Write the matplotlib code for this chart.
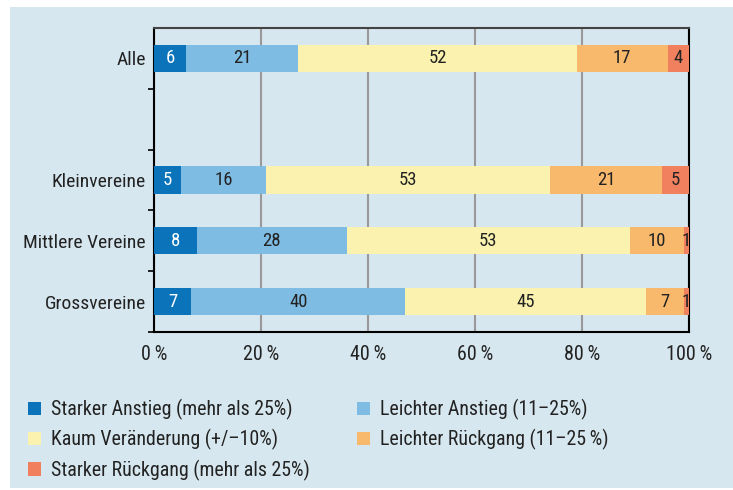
import matplotlib.pyplot as plt
from matplotlib.patches import Rectangle, Patch
from matplotlib import font_manager

categories = ['Alle', '', 'Kleinvereine', 'Mittlere Vereine', 'Grossvereine']
starker_anstieg = [6, None, 5, 8, 7]
leichter_anstieg = [21, None, 16, 28, 40]
kaum = [52, None, 53, 53, 45]
leichter_rueckgang = [17, None, 21, 10, 7]
starker_rueckgang = [4, None, 5, 1, 1]

series_names = ['Starker Anstieg (mehr als 25%)', 'Leichter Anstieg (11\u201325%)',
                'Kaum Veränderung (+/\u201310%)', 'Leichter Rückgang (11\u201325\u2009%)',
                'Starker Rückgang (mehr als 25%)']
colours = ['#0a73b9', '#7fbce3', '#faf2ae', '#f8b96c', '#f0805e']
text_colours = ['white', '#222222', '#222222', '#222222', '#222222']
xticks = [0, 20, 40, 60, 80, 100]

installed = {f.name for f in font_manager.fontManager.ttflist}
families = [f for f in ['Liberation Sans Narrow', 'Roboto Condensed', 'Open Sans Condensed', 'Lato']
            if f in installed]
plt.rcParams['font.family'] = families + ['DejaVu Sans']
plt.rcParams['font.size'] = 13.5
bg = '#d7e7ef'

fig = plt.figure(figsize=(7.33, 4.9), dpi=100)
fig.patches.append(Rectangle((10 / 733, 2 / 490), 1, 1 - 9 / 490, transform=fig.transFigure,
                             facecolor=bg, edgecolor='none', zorder=-1))
ax = fig.add_axes([154 / 733, 1 - 332 / 490, 535 / 733, 304 / 490])
ax.set_facecolor(bg)

all_series = [starker_anstieg, leichter_anstieg, kaum, leichter_rueckgang, starker_rueckgang]
left = [0] * len(categories)
for vals, col, tcol, name in zip(all_series, colours, text_colours, series_names):
    for i, v in enumerate(vals):
        if v is None:
            continue
        ax.barh(i, v, left=left[i], height=0.45, color=col, zorder=3)
        ax.text(left[i] + v / 2, i, str(v), ha='center', va='center', color=tcol, zorder=4)
        left[i] += v

ax.set_xlim(0, 100)
ax.set_ylim(4.5, -0.5)
ax.set_yticks(range(len(categories)))
ax.set_yticklabels(categories, color='#222222', fontsize=14)
ax.tick_params(axis='y', length=0, pad=6)
ax.set_yticks([0.5, 1.5, 2.5, 3.5, 4.5], minor=True)
ax.tick_params(axis='y', which='minor', length=4, width=1.2, direction='out')
ax.set_xticks(xticks)
ax.set_xticklabels([f'{x}\u2009%' for x in xticks], color='#222222', fontsize=14.5)
ax.tick_params(axis='x', length=0, pad=9)
ax.grid(axis='x', color='#999999', linewidth=1.5, zorder=1)
for s in ['left', 'right', 'bottom']:
    ax.spines[s].set_linewidth(1.5)
    ax.spines[s].set_color('black')
ax.spines['top'].set_linewidth(1.5)
ax.spines['top'].set_color('#444444')

handles = [Patch(facecolor=c, edgecolor='none') for c in colours]
order = [0, 2, 4, 1, 3]
fig.legend([handles[i] for i in order], [series_names[i] for i in order],
           loc='upper left', bbox_to_anchor=(10 / 733, 1 - 381 / 490), ncol=2,
           frameon=False, handlelength=0.65, handleheight=0.65, handletextpad=0.5,
           columnspacing=2.4, labelspacing=0.47, labelcolor='#222222', fontsize=14.3)

fig.savefig('out.png', dpi=100)
